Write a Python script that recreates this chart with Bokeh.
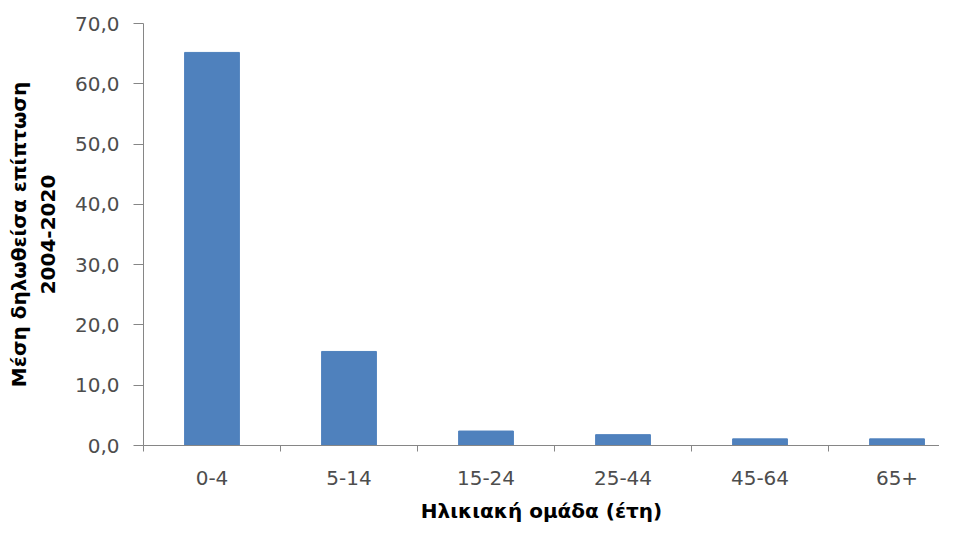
from bokeh.plotting import figure
from bokeh.models import Range1d, FixedTicker, ColumnDataSource
from bokeh.embed import file_html
from bokeh.resources import INLINE

categories = ["0-4", "5-14", "15-24", "25-44", "45-64", "65+"]
values = [65.2, 15.6, 2.4, 1.8, 1.1, 1.1]
y_ticks = [0, 10, 20, 30, 40, 50, 60, 70]

x_pos = [i + 0.5 for i in range(len(categories))]
src = ColumnDataSource(dict(x=x_pos, top=values, cat=categories))

FONT = "DejaVu Sans"
AXIS_COL = "#868686"
LABEL_COL = "#4d4d4d"

p = figure(width=939, height=529, output_backend="svg", toolbar_location=None,
           x_range=Range1d(0, 5.81), y_range=Range1d(0, 70),
           min_border_left=143, min_border_right=0, min_border_top=23, min_border_bottom=84)
p.outline_line_color = None
p.grid.grid_line_color = None

p.vbar(x="x", top="top", width=0.4, source=src, fill_color="#4F81BD", line_color="#4F81BD")

# x axis
xa = p.xaxis[0]
xa.ticker = FixedTicker(ticks=x_pos, minor_ticks=list(range(len(categories) + 1)))
xa.major_label_overrides = {x: c for x, c in zip(x_pos, categories)}
xa.major_tick_line_color = None
xa.major_tick_in = 0
xa.major_tick_out = 6
xa.minor_tick_in = 0
xa.minor_tick_out = 6
xa.minor_tick_line_color = AXIS_COL
xa.axis_line_color = AXIS_COL
xa.major_label_text_font = FONT
xa.major_label_text_font_size = "20px"
xa.major_label_text_color = LABEL_COL
xa.major_label_standoff = 19
xa.axis_label = "Ηλικιακή ομάδα (έτη)"
xa.axis_label_text_font = FONT
xa.axis_label_text_font_size = "20px"
xa.axis_label_text_font_style = "bold"
xa.axis_label_text_color = "black"
xa.axis_label_standoff = 11

# y axis
ya = p.yaxis[0]
ya.ticker = FixedTicker(ticks=y_ticks, minor_ticks=[])
ya.major_label_overrides = {t: f"{t:.1f}".replace(".", ",") for t in y_ticks}
ya.major_tick_in = 0
ya.major_tick_out = 10
ya.major_tick_line_color = AXIS_COL
ya.axis_line_color = AXIS_COL
ya.major_label_text_font = FONT
ya.major_label_text_font_size = "20px"
ya.major_label_text_color = LABEL_COL
ya.major_label_standoff = 14
ya.axis_label = "Μέση δηλωθείσα επίπτωση\n2004-2020"
ya.axis_label_text_font = FONT
ya.axis_label_text_font_size = "20px"
ya.axis_label_text_font_style = "bold"
ya.axis_label_text_color = "black"
ya.axis_label_standoff = 12

open("out.html", "w").write(file_html(p, INLINE))
